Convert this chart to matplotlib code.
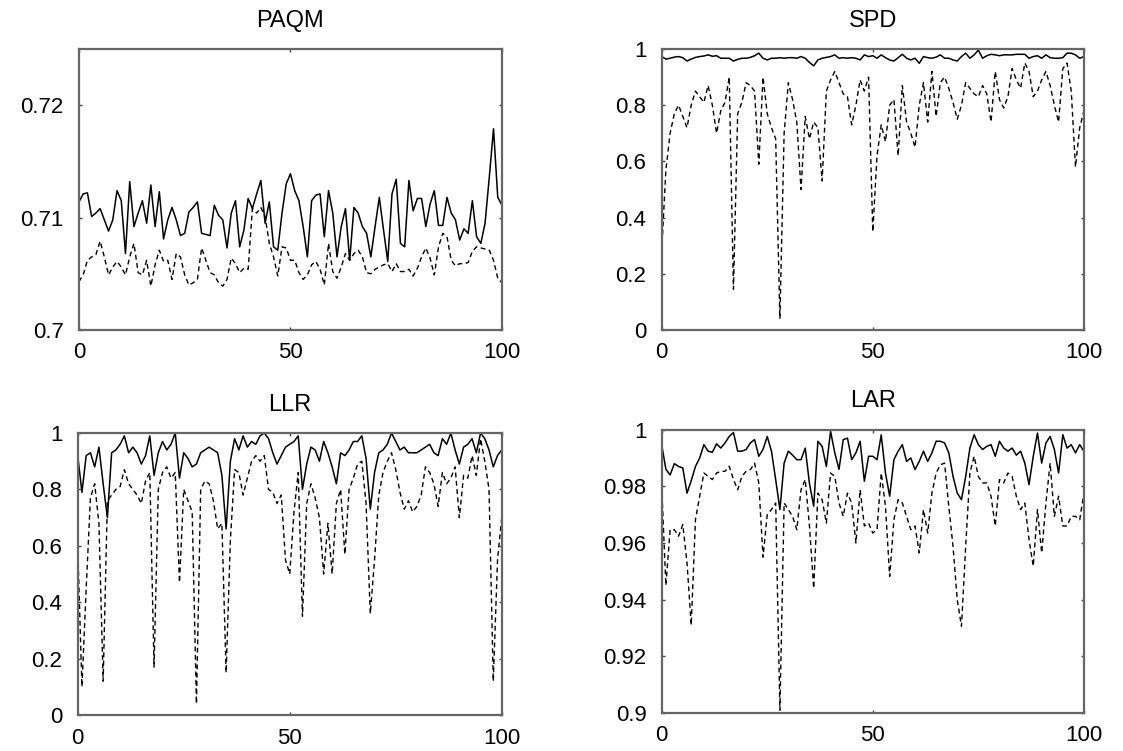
import numpy as np
import matplotlib
matplotlib.use('Agg')
import matplotlib.pyplot as plt

# x positions of the samples
x = np.arange(101)

# values
paqm_solid = [0.7114, 0.7121, 0.7122, 0.7101, 0.7104, 0.7108, 0.7098, 0.7088, 0.7098, 0.7124,
              0.7115, 0.7068, 0.7132, 0.7092, 0.7104, 0.7115, 0.7095, 0.7129, 0.7092, 0.7123,
              0.7081, 0.7098, 0.7109, 0.7098, 0.7084, 0.7086, 0.7105, 0.7109, 0.7114, 0.7086,
              0.7085, 0.7084, 0.7111, 0.7102, 0.7098, 0.7073, 0.7104, 0.7115, 0.7074, 0.7089,
              0.7117, 0.7108, 0.7121, 0.7133, 0.7095, 0.7114, 0.7074, 0.7071, 0.7104, 0.7130,
              0.7139, 0.7124, 0.7115, 0.7092, 0.7065, 0.7115, 0.7120, 0.7121, 0.7083, 0.7124,
              0.7104, 0.7065, 0.7092, 0.7108, 0.7062, 0.7109, 0.7104, 0.7092, 0.7086, 0.7065,
              0.7092, 0.7118, 0.7089, 0.7061, 0.7121, 0.7134, 0.7077, 0.7074, 0.7133, 0.7106,
              0.7117, 0.7117, 0.7092, 0.7112, 0.7124, 0.7093, 0.7093, 0.7118, 0.7104, 0.7098,
              0.7080, 0.7090, 0.7086, 0.7115, 0.7083, 0.7077, 0.7095, 0.7136, 0.7179, 0.7118,
              0.7111]
paqm_dash = [0.7043, 0.7049, 0.7062, 0.7065, 0.7067, 0.7079, 0.7065, 0.7049, 0.7056, 0.7061,
             0.7056, 0.7049, 0.7065, 0.7077, 0.7051, 0.7049, 0.7062, 0.7039, 0.7058, 0.7071,
             0.7061, 0.7062, 0.7045, 0.7068, 0.7065, 0.7049, 0.7040, 0.7042, 0.7045, 0.7073,
             0.7062, 0.7051, 0.7049, 0.7042, 0.7039, 0.7045, 0.7064, 0.7059, 0.7051, 0.7055,
             0.7054, 0.7108, 0.7104, 0.7109, 0.7101, 0.7077, 0.7065, 0.7048, 0.7074, 0.7073,
             0.7062, 0.7062, 0.7051, 0.7045, 0.7049, 0.7058, 0.7061, 0.7054, 0.7040, 0.7077,
             0.7052, 0.7046, 0.7056, 0.7068, 0.7062, 0.7068, 0.7071, 0.7065, 0.7051, 0.7050,
             0.7054, 0.7056, 0.7058, 0.7059, 0.7052, 0.7059, 0.7052, 0.7052, 0.7054, 0.7048,
             0.7055, 0.7065, 0.7073, 0.7064, 0.7049, 0.7074, 0.7086, 0.7083, 0.7062, 0.7057,
             0.7059, 0.7059, 0.7060, 0.7070, 0.7074, 0.7073, 0.7072, 0.7071, 0.7062, 0.7046,
             0.7042]

spd_solid = [0.973, 0.964, 0.967, 0.971, 0.973, 0.969, 0.957, 0.964, 0.970, 0.973,
             0.975, 0.979, 0.974, 0.976, 0.967, 0.967, 0.967, 0.957, 0.963, 0.967,
             0.967, 0.970, 0.976, 0.985, 0.967, 0.961, 0.967, 0.967, 0.969, 0.967,
             0.969, 0.969, 0.967, 0.973, 0.967, 0.952, 0.940, 0.961, 0.967, 0.970,
             0.973, 0.979, 0.967, 0.969, 0.967, 0.969, 0.967, 0.961, 0.979, 0.973,
             0.976, 0.967, 0.979, 0.969, 0.961, 0.957, 0.969, 0.981, 0.967, 0.961,
             0.967, 0.949, 0.973, 0.969, 0.967, 0.971, 0.979, 0.967, 0.967, 0.961,
             0.957, 0.973, 0.985, 0.967, 0.979, 0.996, 0.967, 0.976, 0.981, 0.979,
             0.976, 0.979, 0.979, 0.979, 0.981, 0.981, 0.981, 0.967, 0.973, 0.976,
             0.967, 0.979, 0.969, 0.967, 0.967, 0.969, 0.985, 0.985, 0.979, 0.967,
             0.973]
spd_dash = [0.28, 0.57, 0.70, 0.77, 0.80, 0.76, 0.72, 0.80, 0.85, 0.83,
            0.81, 0.87, 0.80, 0.70, 0.78, 0.81, 0.90, 0.145, 0.77, 0.81,
            0.88, 0.87, 0.85, 0.59, 0.90, 0.77, 0.72, 0.68, 0.04, 0.70,
            0.88, 0.82, 0.74, 0.50, 0.76, 0.68, 0.74, 0.72, 0.53, 0.85,
            0.89, 0.92, 0.88, 0.84, 0.83, 0.73, 0.80, 0.89, 0.85, 0.90,
            0.35, 0.62, 0.73, 0.67, 0.80, 0.82, 0.62, 0.87, 0.74, 0.70,
            0.65, 0.80, 0.88, 0.74, 0.92, 0.76, 0.88, 0.90, 0.86, 0.81,
            0.75, 0.80, 0.88, 0.86, 0.84, 0.83, 0.87, 0.84, 0.74, 0.92,
            0.82, 0.79, 0.83, 0.93, 0.89, 0.86, 0.95, 0.92, 0.83, 0.85,
            0.89, 0.92, 0.87, 0.80, 0.74, 0.93, 0.95, 0.85, 0.58, 0.72,
            0.78]

llr_solid = [0.92, 0.79, 0.92, 0.93, 0.88, 0.95, 0.82, 0.70, 0.93, 0.94,
             0.96, 0.99, 0.93, 0.95, 0.93, 0.89, 0.92, 0.99, 0.85, 0.93,
             0.97, 0.94, 0.96, 1.00, 0.84, 0.93, 0.91, 0.88, 0.89, 0.93,
             0.94, 0.95, 0.94, 0.93, 0.85, 0.66, 0.90, 0.98, 0.94, 0.99,
             0.95, 0.97, 0.96, 0.99, 1.00, 0.98, 0.93, 0.89, 0.92, 0.95,
             0.96, 0.97, 0.99, 0.80, 0.89, 0.95, 0.94, 0.90, 0.97, 0.93,
             0.88, 0.82, 0.93, 0.92, 0.94, 0.97, 0.97, 0.99, 0.91, 0.73,
             0.86, 0.93, 0.94, 0.96, 1.00, 0.97, 0.94, 0.95, 0.93, 0.93,
             0.93, 0.94, 0.95, 0.96, 0.93, 0.92, 0.98, 0.96, 1.00, 0.94,
             0.89, 0.95, 0.96, 0.98, 0.93, 1.00, 0.98, 0.94, 0.88, 0.92,
             0.94]
llr_dash = [0.60, 0.10, 0.45, 0.77, 0.82, 0.68, 0.12, 0.76, 0.78, 0.80,
            0.81, 0.87, 0.82, 0.80, 0.78, 0.75, 0.83, 0.86, 0.17, 0.80,
            0.86, 0.88, 0.84, 0.86, 0.47, 0.80, 0.76, 0.72, 0.04, 0.80,
            0.83, 0.82, 0.76, 0.66, 0.68, 0.15, 0.62, 0.87, 0.86, 0.78,
            0.84, 0.90, 0.92, 0.90, 0.92, 0.80, 0.79, 0.75, 0.78, 0.55,
            0.50, 0.72, 0.86, 0.35, 0.75, 0.82, 0.77, 0.70, 0.50, 0.68,
            0.50, 0.75, 0.80, 0.57, 0.80, 0.84, 0.89, 0.90, 0.75, 0.36,
            0.55, 0.78, 0.86, 0.90, 0.93, 0.87, 0.79, 0.73, 0.76, 0.72,
            0.74, 0.78, 0.88, 0.86, 0.82, 0.74, 0.86, 0.82, 0.84, 0.88,
            0.70, 0.85, 0.84, 0.92, 0.85, 0.98, 0.90, 0.80, 0.12, 0.55,
            0.70]

lar_solid = [0.9947, 0.986, 0.984, 0.988, 0.987, 0.9865, 0.9776, 0.982, 0.987, 0.990,
             0.9947, 0.9924, 0.992, 0.995, 0.9935, 0.9953, 0.9976, 0.999, 0.9924, 0.9924,
             0.993, 0.9953, 0.9965, 0.9906, 0.993, 0.9976, 0.9924, 0.9824, 0.9718, 0.9882,
             0.9924, 0.991, 0.9894, 0.9894, 0.9935, 0.981, 0.973, 0.9959, 0.9941, 0.987,
             0.9994, 0.9918, 0.986, 0.9965, 0.997, 0.9894, 0.9918, 0.9959, 0.9818, 0.9906,
             0.9906, 0.9894, 0.9982, 0.9847, 0.9765, 0.9894, 0.9924, 0.9947, 0.9888, 0.990,
             0.9859, 0.9888, 0.9924, 0.9888, 0.9918, 0.9959, 0.9959, 0.9953, 0.9918, 0.9835,
             0.9776, 0.9753, 0.9835, 0.9935, 0.9982, 0.9947, 0.993, 0.9941, 0.9947, 0.9906,
             0.9959, 0.9935, 0.9924, 0.9935, 0.991, 0.9924, 0.9882, 0.9806, 0.9906, 0.9988,
             0.9882, 0.9953, 0.9976, 0.993, 0.9847, 0.9982, 0.9935, 0.9947, 0.9918, 0.9947,
             0.9924]
lar_dash = [0.980, 0.945, 0.9647, 0.9647, 0.9624, 0.9665, 0.953, 0.931, 0.9682, 0.9765,
            0.9847, 0.9835, 0.9824, 0.9847, 0.9853, 0.9853, 0.9871, 0.9824, 0.9788, 0.9835,
            0.9853, 0.9859, 0.9882, 0.9812, 0.955, 0.970, 0.9718, 0.9741, 0.901, 0.9741,
            0.9718, 0.9694, 0.9647, 0.9788, 0.9824, 0.966, 0.944, 0.9776, 0.9753, 0.967,
            0.9847, 0.9835, 0.9741, 0.9694, 0.9776, 0.9741, 0.960, 0.9788, 0.966, 0.967,
            0.9635, 0.9647, 0.9847, 0.9729, 0.9482, 0.9682, 0.9753, 0.9741, 0.9694, 0.9647,
            0.966, 0.9565, 0.9718, 0.9635, 0.9776, 0.9847, 0.9876, 0.9882, 0.9729, 0.9588,
            0.940, 0.9306, 0.9588, 0.9847, 0.9906, 0.9835, 0.9812, 0.9812, 0.9765, 0.966,
            0.9824, 0.9812, 0.9847, 0.9835, 0.9765, 0.9718, 0.9741, 0.9612, 0.9518, 0.9718,
            0.9565, 0.9741, 0.9882, 0.9694, 0.9765, 0.966, 0.966, 0.9694, 0.9694, 0.9682,
            0.9776]

titles = ['PAQM', 'SPD', 'LLR', 'LAR']
ylims = [(0.7, 0.725), (0, 1), (0, 1), (0.9, 1.0)]
yticks = [[0.7, 0.71, 0.72],
          [0, 0.2, 0.4, 0.6, 0.8, 1],
          [0, 0.2, 0.4, 0.6, 0.8, 1],
          [0.9, 0.92, 0.94, 0.96, 0.98, 1]]
yticklabels = [['0.7', '0.71', '0.72'],
               ['0', '0.2', '0.4', '0.6', '0.8', '1'],
               ['0', '0.2', '0.4', '0.6', '0.8', '1'],
               ['0.9', '0.92', '0.94', '0.96', '0.98', '1']]
xticks = [0, 50, 100]

plt.rcParams['font.family'] = ['Liberation Sans', 'DejaVu Sans']

fig = plt.figure(figsize=(11.23, 7.51), dpi=100)

# axes boxes in figure fractions (left, bottom, width, height)
boxes = [[0.0703, 0.5606, 0.3767, 0.3742],
         [0.5892, 0.5606, 0.3760, 0.3742],
         [0.0692, 0.0479, 0.3776, 0.3755],
         [0.5892, 0.0506, 0.3760, 0.3773]]
series = [(paqm_solid, paqm_dash), (spd_solid, spd_dash),
          (llr_solid, llr_dash), (lar_solid, lar_dash)]

for k in range(4):
    ax = fig.add_axes(boxes[k])
    solid, dash = series[k]
    ax.plot(x, dash, color='black', linestyle=(0, (3.5, 2.5)), linewidth=1.0)
    ax.plot(x, solid, color='black', linestyle='-', linewidth=1.1)
    ax.set_xlim(0, 100)
    ax.set_ylim(*ylims[k])
    ax.set_xticks(xticks)
    ax.set_xticklabels([str(t) for t in xticks])
    ax.set_yticks(yticks[k])
    ax.set_yticklabels(yticklabels[k])
    ax.tick_params(direction='in', length=2.5, width=1, color='#444444',
                   top=True, right=True, labelsize=16, pad=9)
    ax.tick_params(axis='y', pad=11)
    for sp in ax.spines.values():
        sp.set_color('#666666')
        sp.set_linewidth(1.6)
    ax.set_title(titles[k], fontsize=17, pad=16)

fig.savefig('out.png', dpi=100)
